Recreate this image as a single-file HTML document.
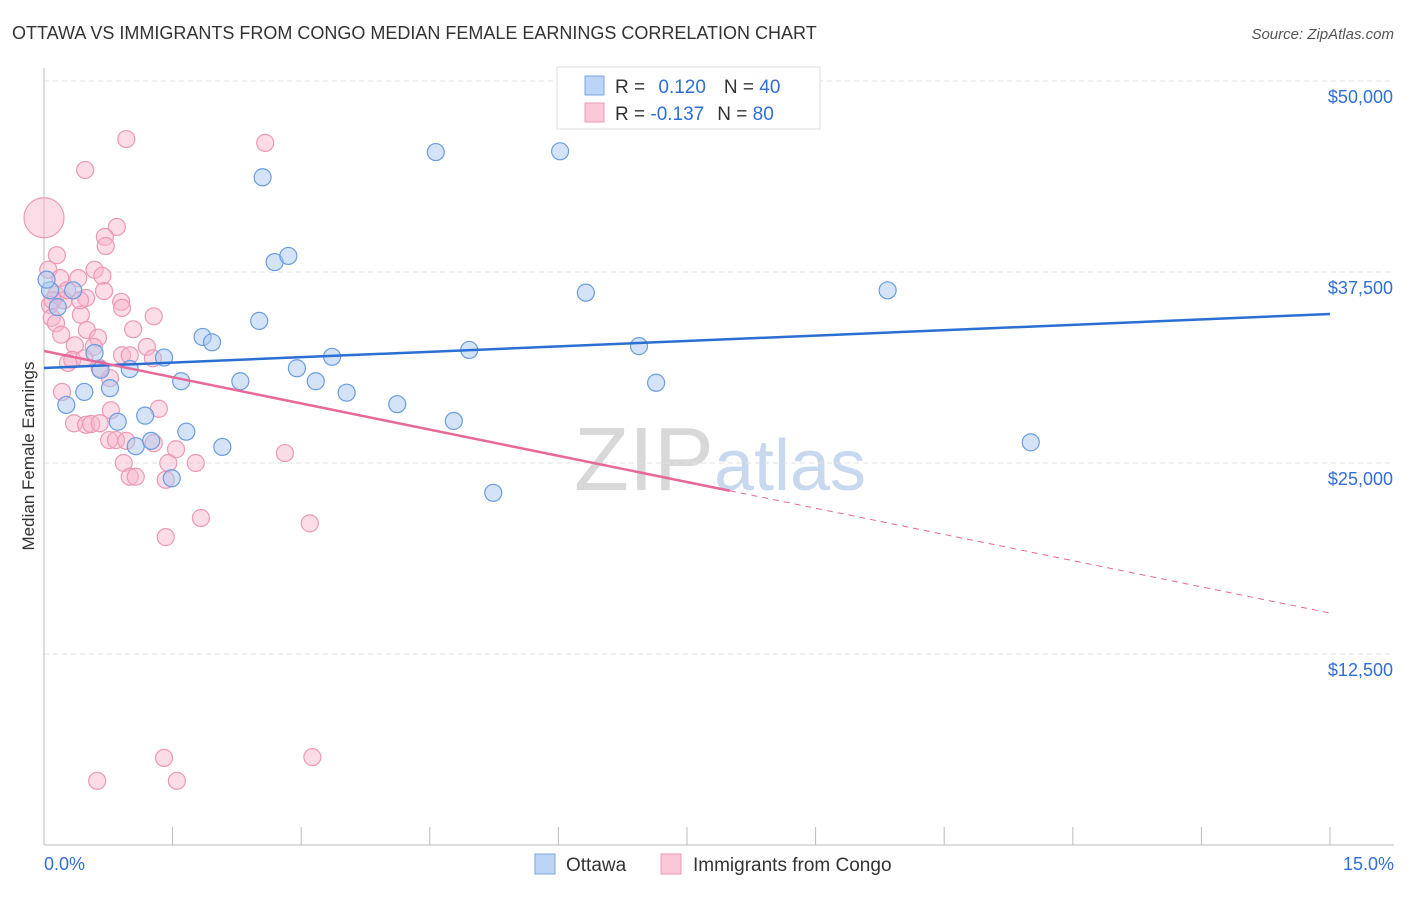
<!DOCTYPE html>
<html><head><meta charset="utf-8"><style>
body{margin:0;background:#fff;font-family:"Liberation Sans",sans-serif}
svg text{font-family:"Liberation Sans",sans-serif}
</style></head><body>
<svg id="c" width="1406" height="892" xmlns="http://www.w3.org/2000/svg">
<text x="12" y="39" font-size="18" fill="#333">OTTAWA VS IMMIGRANTS FROM CONGO MEDIAN FEMALE EARNINGS CORRELATION CHART</text>
<text x="1394" y="39" font-size="15" fill="#555" font-style="italic" text-anchor="end">Source: ZipAtlas.com</text>
<text x="34" y="456" font-size="17" fill="#333" text-anchor="middle" transform="rotate(-90 34 456)">Median Female Earnings</text>
<text x="720" y="490" font-size="90" fill="#ddd" text-anchor="middle" font-family="Liberation Serif"><tspan fill="#d8d8d8">ZIP</tspan><tspan fill="#c8d8ee" font-family="Liberation Sans" font-size="72">atlas</tspan></text>
<g id="grid"></g><g id="axes"></g><g id="pts"></g><g id="lines"></g>
<g>
<rect x="557" y="67" width="263" height="62" fill="#fff" stroke="#ddd"/>
<rect x="585" y="76" width="19" height="19" fill="#bcd4f5" stroke="#7aa6e6"/>
<rect x="585" y="103" width="19" height="19" fill="#fbc8d8" stroke="#ee98b4"/>
<text x="615" y="93" font-size="19" fill="#333">R = <tspan fill="#2f6fd6" dx="8">0.120</tspan><tspan dx="18">N = </tspan><tspan fill="#2f6fd6">40</tspan></text>
<text x="615" y="120" font-size="19" fill="#333">R = <tspan fill="#2f6fd6">-0.137</tspan><tspan dx="13">N = </tspan><tspan fill="#2f6fd6">80</tspan></text>
</g>
<g>
<rect x="535" y="854" width="20" height="20" fill="#bcd4f5" stroke="#7aa6e6"/>
<text x="566" y="871" font-size="19" fill="#333">Ottawa</text>
<rect x="661" y="854" width="20" height="20" fill="#fbc8d8" stroke="#ee98b4"/>
<text x="693" y="871" font-size="19" fill="#333">Immigrants from Congo</text>
</g>
</svg>
<script>
const yTicks=[12500,25000,37500,50000];
const yTickLabels=["$12,500","$25,000","$37,500","$50,000"];
const ottawaX=[0.07,0.03,0.16,0.34,0.26,0.47,0.59,0.66,0.77,0.86,1.0,1.07,1.18,1.25,1.40,1.49,1.60,1.66,1.85,1.96,2.08,2.29,2.51,2.55,2.69,2.85,2.95,3.17,3.36,3.53,4.12,4.57,4.78,4.96,5.24,6.02,6.32,6.94,7.14,9.84,11.51];
const ottawaY=[36300,37000,35200,36300,28800,29650,32200,31100,29900,27700,31150,26100,28100,26450,31900,24000,30350,27050,33250,32900,26050,30350,34300,43700,38150,38550,31200,30350,31950,29600,28850,45350,27750,32400,23050,45400,36150,32650,30250,36300,26350];
const congoX=[0,0.48,0.96,2.58,0.85,0.71,0.72,0.15,0.05,0.19,0.40,0.59,0.68,0.70,0.49,0.14,0.07,0.23,0.09,0.14,0.43,0.90,0.91,1.28,1.04,0.50,0.20,0.63,0.36,0.28,0.58,0.91,0.33,0.47,0.65,1.00,1.20,1.27,0.77,0.21,0.78,1.34,0.35,0.49,0.55,0.65,0.76,0.84,0.96,1.28,1.54,0.93,1.00,1.07,1.45,1.42,1.77,2.81,1.83,1.42,3.10,0.62,1.40,1.55,3.13,0.42,0.27,0.10];
const congoY=[41050,44180,46200,45950,40450,39800,39200,38600,37650,37100,37100,37650,37250,36250,35800,36000,35350,35650,34500,34150,34700,35550,35150,34600,33750,33700,33400,33200,32700,31550,32600,32050,31750,31850,31200,32050,32600,31850,30550,29650,28450,28550,27600,27500,27550,27600,26500,26500,26450,26300,25900,25000,24100,24100,25000,23900,25000,25650,21400,20150,21050,4200,5700,4200,5750,35650,36300,35650];
const ottawaTrend=[31220,34750];
const congoTrend=[32330,15180];
const congoSolidEnd=8.0;
const NS="http://www.w3.org/2000/svg";
const X0=44,X1=1330,Yb=845;
const sx=v=>X0+(X1-X0)*v/15;
const sy=v=>Yb-(Yb-463)*v/25000;
function mk(t,a,p){const e=document.createElementNS(NS,t);for(const k in a)e.setAttribute(k,a[k]);p.appendChild(e);return e;}
const grid=document.getElementById('grid'),axes=document.getElementById('axes');
yTicks.forEach((t,i)=>{
 const g=mk('line',{x1:X0,x2:1394,y1:sy(t),y2:sy(t),stroke:'#e2e2e2','stroke-dasharray':'5,4'},grid);
 
 
 const l=mk('text',{x:1393,y:sy(t)+22,'font-size':18,fill:'#2f6fd6','text-anchor':'end'},axes);
 l.textContent=yTickLabels[i];
 
 
});
const ax=mk('line',{x1:X0,x2:X0,y1:68,y2:Yb,stroke:'#bbb'},axes);


const bx=mk('line',{x1:X0,x2:1394,y1:Yb,y2:Yb,stroke:'#bbb'},axes);


for(let i=0;i<=10;i++){const t=mk('line',{x1:sx(i*1.5),x2:sx(i*1.5),y1:Yb,y2:Yb-18,stroke:'#bbb'},axes);
 
 }
const xl=mk('text',{x:44,y:870,'font-size':18,fill:'#2f6fd6'},axes);xl.textContent='0.0%';


const xr=mk('text',{x:1394,y:870,'font-size':18,fill:'#2f6fd6','text-anchor':'end'},axes);xr.textContent='15.0%';


const pts=document.getElementById('pts');
congoX.forEach((x,i)=>{const c=mk('circle',{cx:sx(x),cy:sy(congoY[i]),r:i==0?20:8.5,fill:'rgba(248,180,202,0.45)',stroke:'#ee98b4','stroke-width':1.2},pts);
 
 });
ottawaX.forEach((x,i)=>{const c=mk('circle',{cx:sx(x),cy:sy(ottawaY[i]),r:8.5,fill:'rgba(170,200,240,0.5)',stroke:'#6a9de0','stroke-width':1.2},pts);
 
 });
const lines=document.getElementById('lines');
const bl=mk('line',{x1:sx(0),y1:sy(ottawaTrend[0]),x2:sx(15),y2:sy(ottawaTrend[1]),stroke:'#2a6fd3','stroke-width':2.5},lines);


const cy=x=>congoTrend[0]+(congoTrend[1]-congoTrend[0])*x/15;
const pl=mk('line',{x1:sx(0),y1:sy(cy(0)),x2:sx(congoSolidEnd),y2:sy(cy(congoSolidEnd)),stroke:'#e8689a','stroke-width':2.5},lines);


const pd=mk('line',{x1:sx(congoSolidEnd),y1:sy(cy(congoSolidEnd)),x2:sx(15),y2:sy(cy(15)),stroke:'#e8689a','stroke-width':1,'stroke-dasharray':'6,5'},lines);


</script>
</body></html>
